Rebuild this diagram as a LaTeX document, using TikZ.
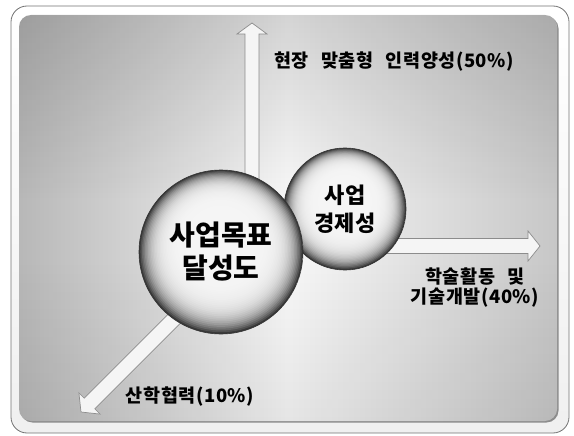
\documentclass[tikz,border=0pt]{standalone}
\usepackage{fontspec}
\newfontfamily\kr{Noto Sans CJK KR}
\newfontfamily\krl{Noto Sans CJK KR}[WordSpace=2.6,LetterSpace=3]
\usetikzlibrary{fadings,calc}
\tikzset{
  blockarrow/.style={fill=black!4, draw=black!45, line width=0.7pt, line join=miter},
  sphere/.style={circle, draw=black!80, line width=0.6pt, inner sep=0pt, align=center, text=black,
    minimum size=#1pt,
    path picture={
      \foreach \i in {0,...,56}{
        \pgfmathsetmacro\t{1-\i/56}
        \pgfmathsetmacro\p{4+74*\t^8}
        \fill[black!\p] ($(path picture bounding box.center)+(0,{-(1-\t)*0.22*#1/2})$) circle ({\t*#1/2});
      }
    }},
  lbl/.style={inner sep=0pt, align=center, text=black, font=\krl\bfseries\fontsize{18.5}{20}\selectfont}
}
\begin{document}
\begin{tikzpicture}[x=1pt,y=-1pt]
\useasboundingbox (0,0) rectangle (574,436);
% outer frame
\draw[black!55, line width=0.8pt, rounded corners=16pt, top color=white, bottom color=black!6] (11,6) rectangle (569,433);
% panel shadow
\fill[black!45, rounded corners=12pt] (20.5,16.5) rectangle (558.5,422.5);
% panel
\shade[rounded corners=12pt, left color=black!28, right color=black!22, middle color=black!3] (19,15) rectangle (557,421);
\begin{scope}
  \clip[rounded corners=12pt] (19,15) rectangle (557,421);
  \fill[black, opacity=0.14, path fading=south] (19,15) rectangle (557,200);
  \fill[black, opacity=0.07, path fading=north] (19,260) rectangle (557,421);
\end{scope}
% arrows
\draw[blockarrow] (245,200) -- (245,34) -- (237,34) -- (252,23) -- (267,34) -- (259,34) -- (259,200) -- cycle;
\draw[blockarrow] (345,238.5) -- (528,238.5) -- (528,231) -- (540,246) -- (528,261) -- (528,253.5) -- (345,253.5) -- cycle;
\draw[blockarrow] (205.7,276.7) -- (84.2,398.2) -- (78.9,392.9) -- (81,412) -- (100.1,414.1) -- (94.8,408.8) -- (216.3,287.3) -- cycle;
% spheres
\node[sphere=122, font=\kr\bfseries\fontsize{22}{28}\selectfont] (econ) at (345,209) {사업\\경제성};
\node[sphere=164, font=\kr\bfseries\fontsize{28}{33}\selectfont] (goal) at (221,252) {사업목표\\달성도};
% labels
\node[lbl, anchor=west] (l1) at (274,62) {현장 맞춤형 인력양성(50\%)};
\node[lbl] (l2) at (475,288) {학술활동 및\\기술개발(40\%)};
\node[lbl] (l3) at (190,397) {산학협력(10\%)};
\end{tikzpicture}
\end{document}
